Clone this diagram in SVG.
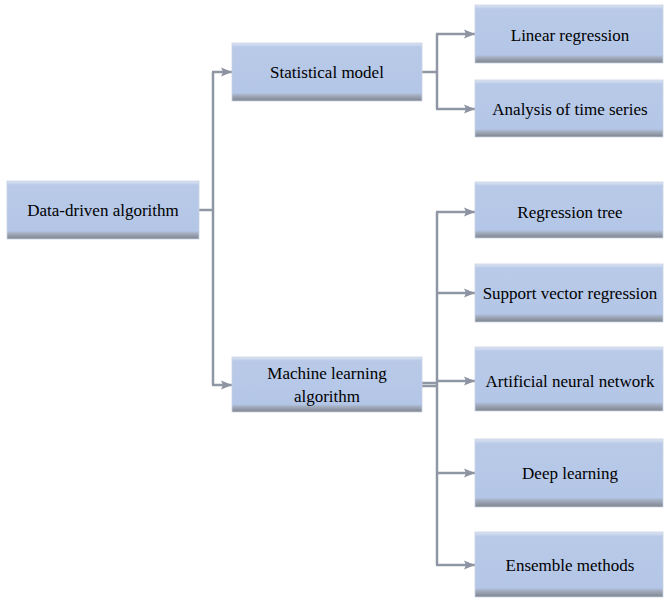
<svg xmlns="http://www.w3.org/2000/svg" width="665" height="599" viewBox="0 0 665 599">
<defs>
<linearGradient id="boxg" x1="0" y1="0" x2="0" y2="1">
<stop offset="0" stop-color="#dde5f3"/>
<stop offset="0.07" stop-color="#b9cae8"/>
<stop offset="0.86" stop-color="#b4c6e7"/>
<stop offset="0.9" stop-color="#a4afc2"/>
<stop offset="1" stop-color="#7e838d"/>
</linearGradient>
<marker id="arr" markerUnits="userSpaceOnUse" markerWidth="12" markerHeight="10" refX="11" refY="5" orient="auto">
<path d="M0,0.5 L11,5 L0,9.5 L2,5 Z" fill="#8d93a0"/>
</marker>
<style>
.box{fill:url(#boxg);stroke:#c9d3e4;stroke-width:0.8}
.lbl{font-family:"Liberation Serif","Times New Roman",serif;font-size:17px;fill:#000;text-anchor:middle}
.ln{fill:none;stroke:#8f96a4;stroke-width:2.5}
.ar{fill:none;stroke:#8f96a4;stroke-width:2.5;marker-end:url(#arr)}
</style>
</defs>
<rect width="665" height="599" fill="#ffffff"/>
<g id="connectors">
<path class="ln" d="M199,210 H213"/>
<path class="ln" d="M213,72 V385"/>
<path class="ar" d="M212,72 H232"/>
<path class="ar" d="M212,385 H232"/>
<path class="ln" d="M422,72 H437"/>
<path class="ln" d="M437,34 V109"/>
<path class="ar" d="M436,34 H475"/>
<path class="ar" d="M436,109 H475"/>
<path class="ln" d="M422,383 H437" stroke-width="1.2"/>
<path class="ln" d="M422,386 H437" stroke-width="1.2"/>
<path class="ln" d="M437,212 V565"/>
<path class="ar" d="M436,212 H475"/>
<path class="ar" d="M436,293 H475"/>
<path class="ar" d="M436,381 H475"/>
<path class="ar" d="M436,473 H475"/>
<path class="ar" d="M436,565 H475"/>
</g>
<g id="data-driven"><rect class="box" x="7" y="181" width="192" height="58"/><text class="lbl" x="103" y="216">Data-driven algorithm</text></g>
<g id="statistical"><rect class="box" x="232" y="43" width="190" height="58"/><text class="lbl" x="327" y="78">Statistical model</text></g>
<g id="machine"><rect class="box" x="232" y="357" width="190" height="55"/><text class="lbl" x="327" y="379">Machine learning</text><text class="lbl" x="327" y="402">algorithm</text></g>
<g id="linear"><rect class="box" x="475" y="5" width="188" height="58"/><text class="lbl" x="570" y="41">Linear regression</text></g>
<g id="timeseries"><rect class="box" x="475" y="80" width="188" height="57"/><text class="lbl" x="570" y="115">Analysis of time series</text></g>
<g id="regtree"><rect class="box" x="475" y="182" width="188" height="56"/><text class="lbl" x="570" y="218">Regression tree</text></g>
<g id="svr"><rect class="box" x="475" y="264" width="188" height="58"/><text class="lbl" x="570" y="299">Support vector regression</text></g>
<g id="ann"><rect class="box" x="475" y="347" width="188" height="64"/><text class="lbl" x="570" y="387">Artificial neural network</text></g>
<g id="deep"><rect class="box" x="475" y="439" width="188" height="68"/><text class="lbl" x="570" y="479">Deep learning</text></g>
<g id="ensemble"><rect class="box" x="475" y="532" width="188" height="65"/><text class="lbl" x="570" y="571">Ensemble methods</text></g>
</svg>
